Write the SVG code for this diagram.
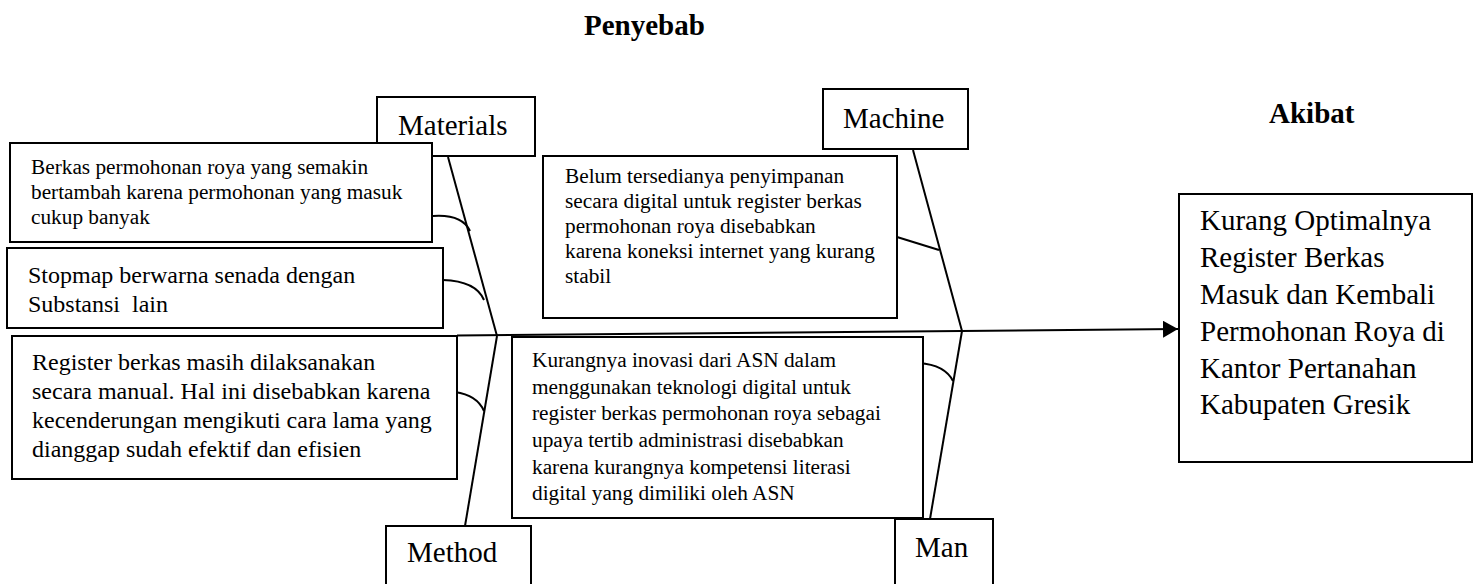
<svg xmlns="http://www.w3.org/2000/svg" width="1476" height="584" viewBox="0 0 1476 584">
<style>
text{font-family:"Liberation Serif","Times New Roman",serif;fill:#000;white-space:pre}
.box{fill:#fff;stroke:#000;stroke-width:2}
.ln{fill:none;stroke:#000;stroke-width:2}
.t21{font-size:21.3px}
.t24{font-size:24px}
.t29{font-size:29px}
.title{font-size:29px;font-weight:bold}
</style>
<defs>
<marker id="arr" markerUnits="userSpaceOnUse" markerWidth="16" markerHeight="18" refX="15" refY="8.5" orient="auto">
<path d="M0,0 L15,8.5 L0,17 Z" fill="#000"/>
</marker>
</defs>
<rect width="1476" height="584" fill="#fff"/>
<text class="title" x="584" y="35">Penyebab</text>
<text class="title" x="1269" y="123">Akibat</text>

<g id="connectors">
<line class="ln" x1="457" y1="335.5" x2="1178" y2="329" marker-end="url(#arr)"/>
<line class="ln" x1="448" y1="157" x2="497" y2="336"/>
<line class="ln" x1="497" y1="336" x2="465" y2="526"/>
<line class="ln" x1="913" y1="150" x2="962" y2="331"/>
<line class="ln" x1="962" y1="331" x2="930" y2="519"/>
<path class="ln" d="M433,216 Q462,214 470,231"/>
<path class="ln" d="M443,280 Q476,281 484,300"/>
<path class="ln" d="M455,392 Q477,395 484,411"/>
<path class="ln" d="M919,363 Q945,365 953,381"/>
<line class="ln" x1="897" y1="237" x2="939" y2="250"/>
</g>

<g id="materials">
<rect class="box" x="377" y="97" width="158" height="59"/>
<text class="t29" x="398" y="135">Materials</text>
</g>
<g id="machine">
<rect class="box" x="823" y="89" width="145" height="60"/>
<text class="t29" x="843" y="128">Machine</text>
</g>
<g id="method">
<rect class="box" x="386" y="526" width="145" height="70"/>
<text class="t29" x="407" y="562">Method</text>
</g>
<g id="man">
<rect class="box" x="895" y="519" width="98" height="77"/>
<text class="t29" x="915" y="557">Man</text>
</g>

<g id="cause-materials-1">
<rect class="box" x="10" y="143" width="422" height="99"/>
<text class="t21" x="31" y="174">Berkas permohonan roya yang semakin</text>
<text class="t21" x="31" y="199">bertambah karena permohonan yang masuk</text>
<text class="t21" x="31" y="224">cukup banyak</text>
</g>
<g id="cause-materials-2">
<rect class="box" x="7" y="248" width="436" height="80"/>
<text class="t24" x="28" y="283">Stopmap berwarna senada dengan</text>
<text class="t24" x="28" y="312">Substansi  lain</text>
</g>
<g id="cause-method">
<rect class="box" x="12" y="336" width="445" height="143"/>
<text class="t24" x="32" y="370">Register berkas masih dilaksanakan</text>
<text class="t24" x="32" y="399">secara manual. Hal ini disebabkan karena</text>
<text class="t24" x="32" y="428">kecenderungan mengikuti cara lama yang</text>
<text class="t24" x="32" y="457">dianggap sudah efektif dan efisien</text>
</g>
<g id="cause-machine">
<rect class="box" x="543" y="156" width="354" height="162"/>
<text class="t21" x="565" y="183">Belum tersedianya penyimpanan</text>
<text class="t21" x="565" y="208">secara digital untuk register berkas</text>
<text class="t21" x="565" y="233">permohonan roya disebabkan</text>
<text class="t21" x="565" y="258">karena koneksi internet yang kurang</text>
<text class="t21" x="565" y="283">stabil</text>
</g>
<g id="cause-man">
<rect class="box" x="512" y="337" width="411" height="181"/>
<text class="t21" x="532" y="367">Kurangnya inovasi dari ASN dalam</text>
<text class="t21" x="532" y="394">menggunakan teknologi digital untuk</text>
<text class="t21" x="532" y="420">register berkas permohonan roya sebagai</text>
<text class="t21" x="532" y="447">upaya tertib administrasi disebabkan</text>
<text class="t21" x="532" y="474">karena kurangnya kompetensi literasi</text>
<text class="t21" x="532" y="500">digital yang dimiliki oleh ASN</text>
</g>
<g id="effect">
<rect class="box" x="1179" y="194" width="293" height="268"/>
<text class="t29" x="1200" y="230">Kurang Optimalnya</text>
<text class="t29" x="1200" y="267">Register Berkas</text>
<text class="t29" x="1200" y="304">Masuk dan Kembali</text>
<text class="t29" x="1200" y="341">Permohonan Roya di</text>
<text class="t29" x="1200" y="378">Kantor Pertanahan</text>
<text class="t29" x="1200" y="414">Kabupaten Gresik</text>
</g>
</svg>
